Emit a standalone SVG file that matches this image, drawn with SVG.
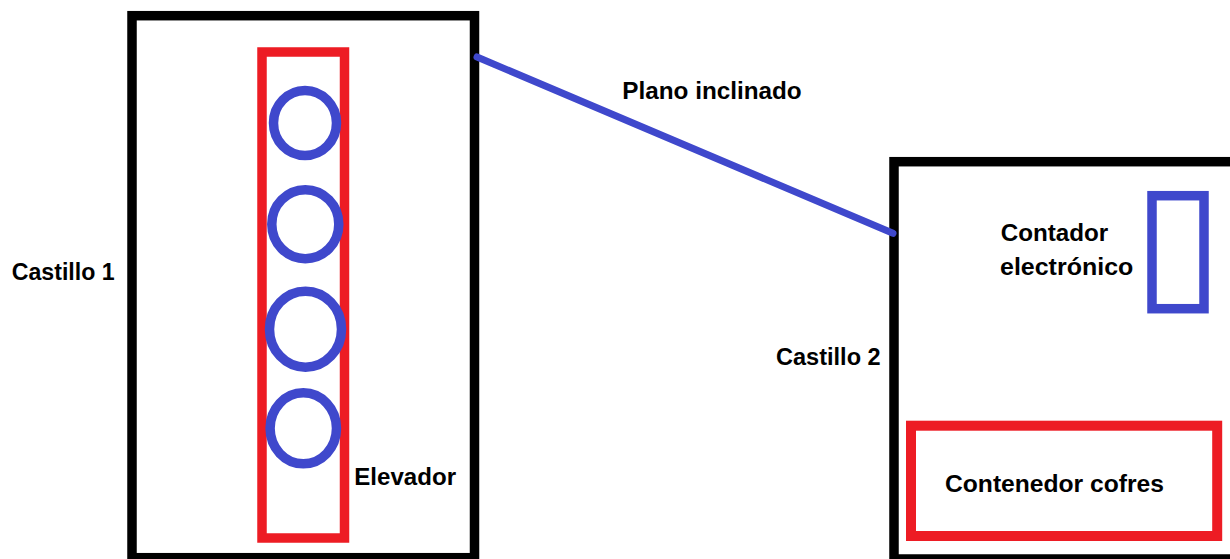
<svg xmlns="http://www.w3.org/2000/svg" width="1230" height="559" viewBox="0 0 1230 559">
<style>
.box{fill:none;stroke:#000;stroke-width:9.5}
.red{fill:none;stroke:#ED1C24;stroke-width:9.5}
.blue{fill:none;stroke:#3F48CC;stroke-width:9.5}
.lbl{font-family:"Liberation Sans",Arial,sans-serif;font-weight:bold;font-size:23px;fill:#000}
</style>
<rect width="1230" height="559" fill="#fff"/>
<g id="castillo1">
<rect class="box" x="132" y="15.7" width="342.5" height="542"/>
<text class="lbl" x="11.7" y="280" textLength="103" lengthAdjust="spacingAndGlyphs">Castillo 1</text>
</g>
<g id="elevador">
<rect class="red" x="262" y="52" width="82.5" height="486"/>
<ellipse class="blue" cx="305" cy="123" rx="31.5" ry="32.5"/>
<ellipse class="blue" cx="305.3" cy="224.2" rx="33.5" ry="34.5"/>
<ellipse class="blue" cx="305.5" cy="329.2" rx="36" ry="38"/>
<ellipse class="blue" cx="303.3" cy="428.3" rx="33.2" ry="35.5"/>
<text class="lbl" x="354.3" y="485" textLength="101.7" lengthAdjust="spacingAndGlyphs">Elevador</text>
</g>
<g id="castillo2">
<rect class="box" x="894" y="161.7" width="400" height="397.3"/>
<text class="lbl" x="776" y="365" textLength="104.7" lengthAdjust="spacingAndGlyphs">Castillo 2</text>
</g>
<g id="contador">
<rect class="blue" x="1152" y="195.7" width="52" height="113"/>
<text class="lbl" x="1000.7" y="240.7" textLength="107.6" lengthAdjust="spacingAndGlyphs">Contador</text>
<text class="lbl" x="1000" y="275" textLength="133.3" lengthAdjust="spacingAndGlyphs">electrónico</text>
</g>
<g id="contenedor">
<rect class="red" x="911" y="425.7" width="306.2" height="110.3" style="stroke-width:10"/>
<text class="lbl" x="945" y="492.3" textLength="219" lengthAdjust="spacingAndGlyphs">Contenedor cofres</text>
</g>
<g id="connectors">
<line x1="477" y1="57" x2="893" y2="233.3" stroke="#3F48CC" stroke-width="7" stroke-linecap="round"/>
<text class="lbl" x="622.3" y="99.3" textLength="179.4" lengthAdjust="spacingAndGlyphs">Plano inclinado</text>
</g>
</svg>
